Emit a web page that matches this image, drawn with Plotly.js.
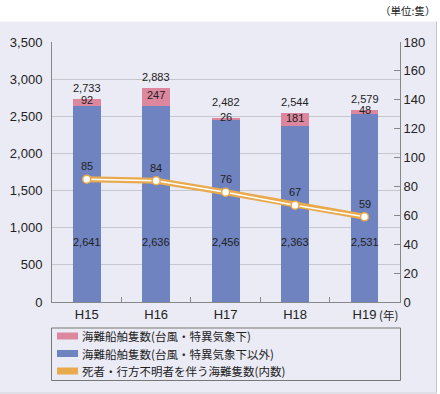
<!DOCTYPE html>
<html>
<head>
<meta charset="utf-8">
<script src="https://cdn.plot.ly/plotly-3.0.1.min.js"></script>
<style>html,body{margin:0;padding:0;background:#fff;}#chart{width:440px;height:394px;}</style>
</head>
<body>
<div id="chart"></div>
<script>
// ---- data ----
const years = ['H15', 'H16', 'H17', 'H18', 'H19'];
const typhoonShips = [92, 247, 26, 181, 48];          // 海難船舶隻数(台風・特異気象下)
const otherShips = [2641, 2636, 2456, 2363, 2531];     // 海難船舶隻数(台風・特異気象下以外)
const totalShips = [2733, 2883, 2482, 2544, 2579];
const casualtyShips = [85, 84, 76, 67, 59];            // 死者・行方不明者を伴う海難隻数(内数)
const legendNames = ['海難船舶隻数(台風・特異気象下)', '海難船舶隻数(台風・特異気象下以外)', '死者・行方不明者を伴う海難隻数(内数)'];
const unitText = '（単位:隻）';
const yearSuffix = '(年)';

// ---- style ----
const W = 440, H = 394, L = 52, R = 40, T = 42, B = 92;
const PW = W - L - R, PH = H - T - B;
const px = x => (x - L) / PW;
const py = y => (H - B - y) / PH;
const BLUE = '#6f83c0', PINK = '#dc879d', ORANGE = '#e8aa4c';
const BG = '#ebebf5';
const NUM = 'Liberation Sans, Arial, sans-serif';
const CJK = 'Noto Sans CJK JP, sans-serif';
const fmt = v => v.toLocaleString('en-US');

const traces = [
  {type: 'bar', x: years, y: otherShips, marker: {color: BLUE}, width: 0.4, hoverinfo: 'none', showlegend: false},
  {type: 'bar', x: years, y: typhoonShips, marker: {color: PINK}, width: 0.4, hoverinfo: 'none', showlegend: false},
  {type: 'scatter', mode: 'lines', x: years, y: casualtyShips, yaxis: 'y2', line: {color: ORANGE, width: 6}, hoverinfo: 'none', showlegend: false},
  {type: 'scatter', mode: 'lines+markers', x: years, y: casualtyShips, yaxis: 'y2', line: {color: '#ffffff', width: 1.5},
   marker: {color: '#ffffff', size: 8, line: {color: ORANGE, width: 1.5}}, hoverinfo: 'none', showlegend: false}
];

const ann = [];
const shapes = [];
years.forEach((yr, i) => {
  ann.push({x: yr, y: 808, text: fmt(otherShips[i]), showarrow: false, font: {family: NUM, size: 11, color: '#222'}});
  ann.push({x: yr, y: otherShips[i] + typhoonShips[i] / 2, yshift: 2, text: fmt(typhoonShips[i]), showarrow: false, font: {family: NUM, size: 11, color: '#222'}});
  ann.push({x: yr, y: totalShips[i], yshift: typhoonShips[i] < 40 ? 16 : 11, text: fmt(totalShips[i]), showarrow: false, font: {family: NUM, size: 11, color: '#222'}});
  ann.push({x: yr, y: casualtyShips[i], yref: 'y2', yshift: 13, text: String(casualtyShips[i]), showarrow: false, font: {family: NUM, size: 11, color: '#222'}});
});
ann.push({x: years[years.length - 1], y: 0, yref: 'y', yshift: -13, xshift: 24, text: yearSuffix, showarrow: false, font: {family: CJK, size: 11.5, color: '#222'}});
ann.push({xref: 'paper', yref: 'paper', x: px(437), y: py(11), xanchor: 'right', yanchor: 'middle', text: unitText, showarrow: false, font: {family: CJK, size: 10.5, color: '#222'}});

// background panel: white strips on top and right
shapes.push({type: 'rect', xref: 'paper', yref: 'paper', x0: px(-2), x1: px(442), y0: py(-2), y1: py(21.5), fillcolor: '#ffffff', line: {width: 0}, layer: 'below'});
shapes.push({type: 'rect', xref: 'paper', yref: 'paper', x0: px(437), x1: px(442), y0: py(-2), y1: py(396), fillcolor: '#ffffff', line: {width: 0}, layer: 'below'});
shapes.push({type: 'line', xref: 'paper', yref: 'paper', x0: px(436.5), x1: px(436.5), y0: py(21.5), y1: py(393), line: {color: '#c4c4cc', width: 1}, layer: 'below'});
shapes.push({type: 'line', xref: 'paper', yref: 'paper', x0: px(0), x1: px(436.5), y0: py(393), y1: py(393), line: {color: '#d4d4dc', width: 1}, layer: 'below'});

// custom legend
shapes.push({type: 'rect', xref: 'paper', yref: 'paper', x0: px(51.5), x1: px(400.5), y0: py(328), y1: py(380.5), fillcolor: 'rgba(0,0,0,0)', line: {color: '#777', width: 1}});
const legColors = [PINK, BLUE, ORANGE];
const legY = [336, 353.5, 371];
legendNames.forEach((nm, i) => {
  shapes.push({type: 'rect', xref: 'paper', yref: 'paper', x0: px(57), x1: px(78), y0: py(legY[i] - 3.5), y1: py(legY[i] + 3.5), fillcolor: legColors[i], line: {width: 0}});
  ann.push({xref: 'paper', yref: 'paper', x: px(80), y: py(legY[i]), xanchor: 'left', yanchor: 'middle', text: nm, showarrow: false, font: {family: CJK, size: 11.5, color: '#222'}});
});

const layout = {
  width: W, height: H,
  margin: {l: L, r: R, t: T, b: B, pad: 0},
  paper_bgcolor: BG, plot_bgcolor: 'rgba(0,0,0,0)',
  barmode: 'stack', bargap: 0.6,
  showlegend: false,
  xaxis: {type: 'category', tickvals: years, ticktext: years, showline: true, linecolor: '#888', linewidth: 1,
          ticks: 'inside', tickson: 'boundaries', ticklen: 5, tickcolor: '#888',
          tickfont: {family: NUM, size: 13, color: '#222'}, showgrid: false, fixedrange: true},
  yaxis: {range: [0, 3500], dtick: 500, tickformat: ',d', showline: true, linecolor: '#888', linewidth: 1,
          gridcolor: '#c6c6ce', gridwidth: 1, zeroline: false, ticks: '', ticklabelstandoff: 6,
          tickfont: {family: NUM, size: 13, color: '#222'}, fixedrange: true},
  yaxis2: {range: [0, 180], dtick: 20, overlaying: 'y', side: 'right', showline: true, linecolor: '#888', linewidth: 1,
           ticks: 'inside', ticklen: 6, tickcolor: '#888', showgrid: false, zeroline: false,
           tickfont: {family: NUM, size: 13, color: '#222'}, fixedrange: true},
  annotations: ann,
  shapes: shapes
};

Plotly.newPlot('chart', traces, layout, {staticPlot: true, displayModeBar: false});
</script>
</body>
</html>
